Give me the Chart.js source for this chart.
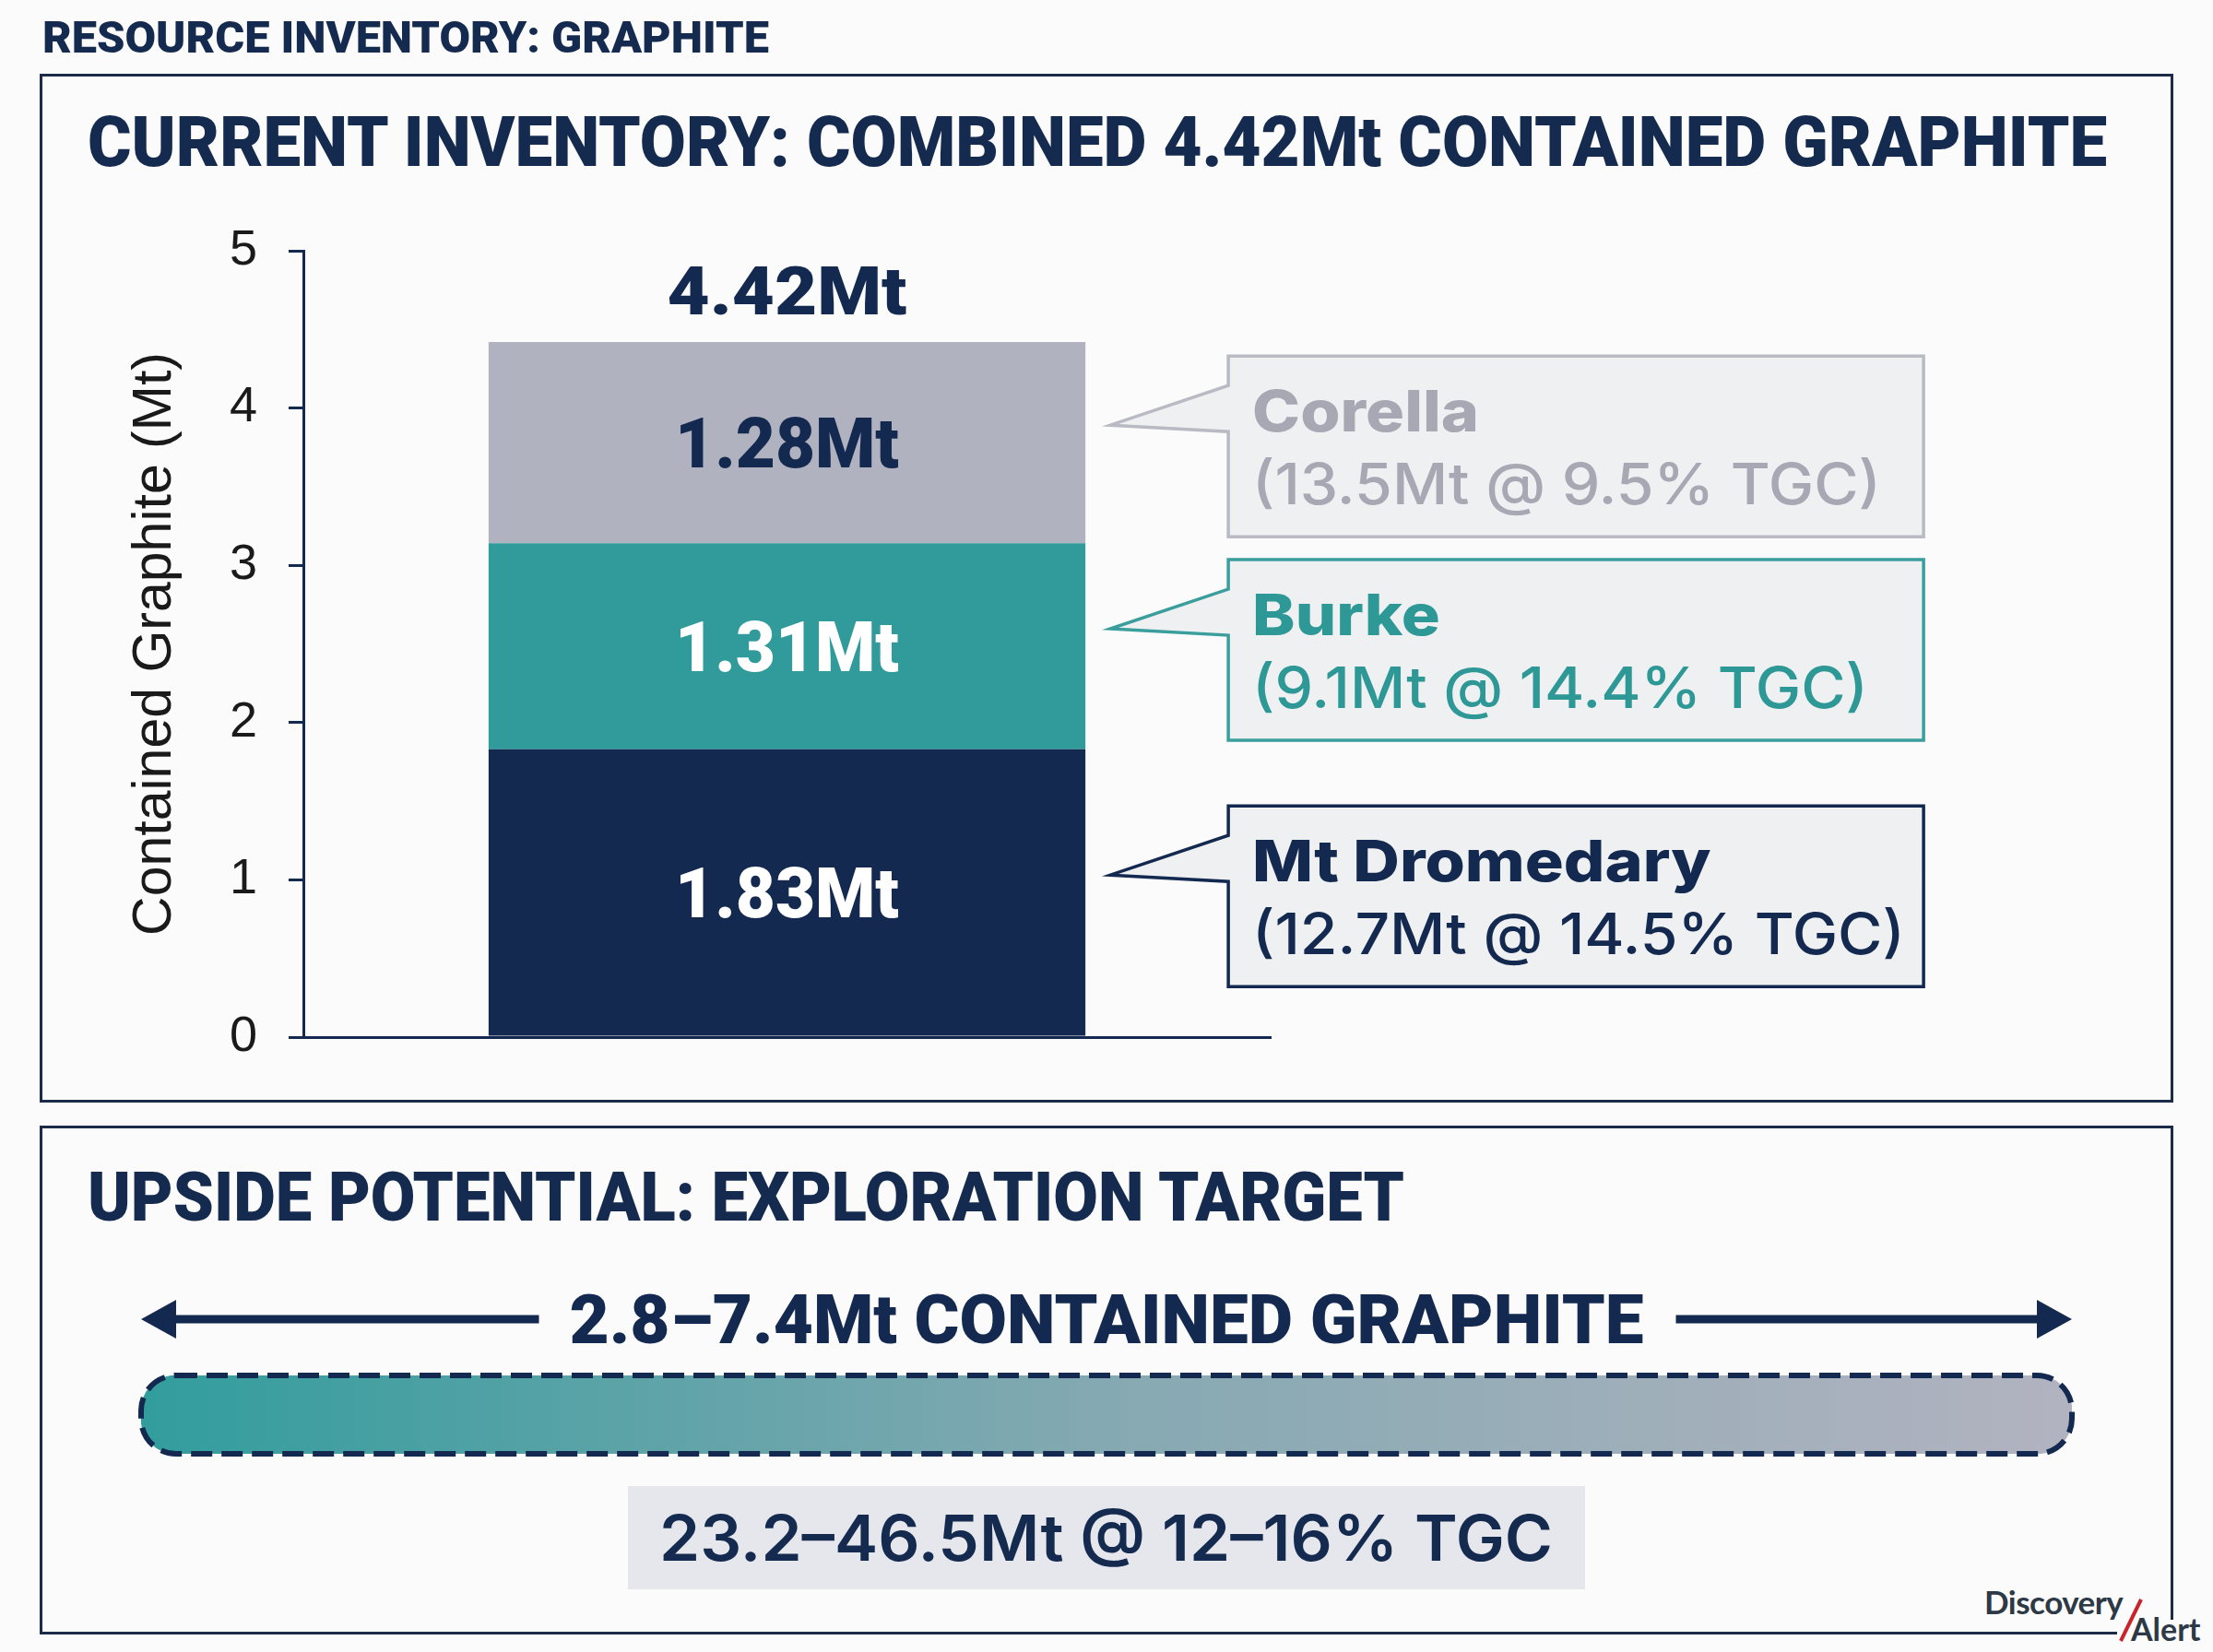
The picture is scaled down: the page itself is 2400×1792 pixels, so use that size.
<!DOCTYPE html>
<html>
<head>
<meta charset="utf-8">
<title>Resource Inventory: Graphite</title>
<script src="https://cdn.jsdelivr.net/npm/chart.js@4/dist/chart.umd.min.js"></script>
<style>
  html, body { margin: 0; padding: 0; }
  body { width: 2400px; height: 1792px; background: #fbfbfc; position: relative; overflow: hidden; }
  .panel { position: absolute; border: 3px solid #1c2b47; box-sizing: border-box; }
  .fit { position: absolute; white-space: nowrap; line-height: 1; transform-origin: 0 0;
         font-family: Roboto, "Liberation Sans", sans-serif; font-weight: 900; color: #142a4e; }
  canvas { position: absolute; left: 0; }
  #targetBox { position: absolute; left: 681px; top: 1612px; width: 1038px; height: 112px; background: #e6e7ec; }
  #logo { position: absolute; left: 2296px; top: 1757px; width: 104px; height: 35px; background: #fbfbfc; }
</style>
</head>
<body>
<div class="panel" style="left:43px; top:80px; width:2314px; height:1116px;"></div>
<div class="panel" style="left:43px; top:1221px; width:2314px; height:552px;"></div>

<div class="fit" id="header" style="left:46px; top:17px; font-size:48px;" data-w="788">RESOURCE INVENTORY: GRAPHITE</div>
<div class="fit" id="topTitle" style="left:95px; top:116px; font-size:76px;" data-w="2190"></div>
<div class="fit" id="bottomTitle" style="left:95px; top:1262px; font-size:74px;" data-w="1428">UPSIDE POTENTIAL: EXPLORATION TARGET</div>

<canvas id="stackChart" width="2400" height="1200" style="top:0;"></canvas>
<canvas id="rangeChart" width="2400" height="240" style="top:1380px;"></canvas>

<div id="targetBox"></div>
<div class="fit" id="targetText" style="left:715px; top:1634px; font-size:69px; font-family:Inter, Roboto, sans-serif; font-weight:600;" data-w="969"></div>

<div id="logo"></div>
<div style="position:absolute; left:2152px; top:1720px; font-family:Lato, 'Open Sans', sans-serif; font-weight:700; font-size:35px; line-height:1; color:#2d3944; letter-spacing:-0.5px;">Discovery</div>
<div style="position:absolute; left:2311px; top:1750px; font-family:Lato, 'Open Sans', sans-serif; font-weight:700; font-size:34px; line-height:1; color:#2d3944;">Alert</div>
<svg style="position:absolute; left:2290px; top:1728px;" width="40" height="60"><line x1="10" y1="52" x2="32" y2="7" stroke="#c9242b" stroke-width="4"/></svg>

<script>
// ---- data ----
const categories = ['Current inventory'];
const deposits = ['Mt Dromedary', 'Burke', 'Corella'];
const containedMt = [1.83, 1.31, 1.28];
const tonnageMt = [12.7, 9.1, 13.5];
const gradeTGC = [14.5, 14.4, 9.5];
const yTicks = [0, 1, 2, 3, 4, 5];

const explorationRangeMt = [2.8, 7.4];
const explorationTonnageMt = [23.2, 46.5];
const explorationGradeTGC = [12, 16];

// ---- colours ----
const NAVY = '#13294f';
const barColors = [NAVY, '#319b9b', '#b1b2bf'];
const barLabelColors = ['#ffffff', '#ffffff', NAVY];
const calloutBorder = [NAVY, '#3a9e9c', '#b9bac3'];
const calloutText = [NAVY, '#2e9896', '#a7a8b4'];

const totalMt = containedMt.reduce((a, b) => a + b, 0);
document.getElementById('topTitle').textContent =
    'CURRENT INVENTORY: COMBINED ' + totalMt.toFixed(2) + 'Mt CONTAINED GRAPHITE';
document.getElementById('targetText').textContent =
    explorationTonnageMt[0] + '–' + explorationTonnageMt[1] + 'Mt @ ' +
    explorationGradeTGC[0] + '–' + explorationGradeTGC[1] + '% TGC';

// squeeze / stretch headings to the widths in the picture
document.querySelectorAll('.fit[data-w]').forEach(function (el) {
    const s = +el.dataset.w / el.getBoundingClientRect().width;
    el.style.transform = 'scaleX(' + s + ')';
});

// width: target width in px (optional), stretch: horizontal scale (optional)
function drawText(ctx, text, x, y, font, color, align, width, stretch) {
    ctx.save();
    ctx.font = font;
    ctx.fillStyle = color;
    ctx.textBaseline = 'alphabetic';
    ctx.textAlign = align || 'left';
    let s = stretch || 1;
    if (width) s = width / ctx.measureText(text).width;
    ctx.translate(x, y);
    ctx.scale(s, 1);
    ctx.fillText(text, 0, 0);
    ctx.restore();
}

// labels inside the stack, total on top, and the callout boxes on the right
const calloutPlugin = {
    id: 'callouts',
    afterDatasetsDraw(chart) {
        const ctx = chart.ctx;
        let stackTop = Infinity, cx = 0;
        chart.data.datasets.forEach(function (ds, i) {
            const bar = chart.getDatasetMeta(i).data[0];
            const mid = (bar.y + bar.base) / 2;
            stackTop = Math.min(stackTop, bar.y);
            cx = bar.x;
            drawText(ctx, containedMt[i].toFixed(2) + 'Mt', bar.x, mid + 27,
                '900 76px Roboto', barLabelColors[i], 'center', null, 0.98);

            const barRight = bar.x + bar.width / 2;
            const tipX = barRight + 27, L = barRight + 155, R = L + 754;
            const T = mid - 94, B = T + 196;
            ctx.save();
            ctx.beginPath();
            ctx.moveTo(L, T);
            ctx.lineTo(R, T);
            ctx.lineTo(R, B);
            ctx.lineTo(L, B);
            ctx.lineTo(L, T + 82);
            ctx.lineTo(tipX, T + 75);
            ctx.lineTo(L, T + 32);
            ctx.closePath();
            ctx.fillStyle = '#eff0f2';
            ctx.fill();
            ctx.lineWidth = 3.5;
            ctx.lineJoin = 'miter';
            ctx.strokeStyle = calloutBorder[i];
            ctx.stroke();
            ctx.restore();

            drawText(ctx, deposits[i], L + 26, T + 82, '800 62px Inter', calloutText[i], 'left', null, 1.13);
            drawText(ctx, '(' + tonnageMt[i] + 'Mt @ ' + gradeTGC[i] + '% TGC)', L + 26, T + 161,
                '500 62px Inter', calloutText[i], 'left', null, 1.065);
        });
        drawText(ctx, totalMt.toFixed(2) + 'Mt', cx, stackTop - 30, '900 72px Roboto', NAVY, 'center', 260);
    }
};

new Chart(document.getElementById('stackChart'), {
    type: 'bar',
    data: {
        labels: categories,
        datasets: deposits.map(function (name, i) {
            return {
                label: name,
                data: [containedMt[i]],
                backgroundColor: barColors[i],
                borderWidth: 0,
                barPercentage: 0.617,
                categoryPercentage: 1
            };
        })
    },
    options: {
        responsive: false,
        animation: false,
        devicePixelRatio: 1,
        layout: { padding: { left: 100, right: 1022, top: 272, bottom: 75 } },
        plugins: { legend: { display: false }, tooltip: { enabled: false } },
        scales: {
            x: {
                stacked: true,
                grid: { display: false },
                ticks: { display: false },
                border: { display: true, color: NAVY, width: 3 },
                afterFit: function (scale) { scale.height = 0; }
            },
            y: {
                stacked: true,
                min: yTicks[0],
                max: yTicks[yTicks.length - 1],
                ticks: {
                    stepSize: 1,
                    padding: 34,
                    color: '#1a1a1a',
                    font: { family: 'Liberation Sans', size: 54 }
                },
                grid: { drawOnChartArea: false, drawTicks: true, tickLength: 16, color: NAVY, lineWidth: 3 },
                border: { display: true, color: NAVY, width: 3 },
                title: {
                    display: true,
                    text: 'Contained Graphite (Mt)',
                    color: '#1a1a1a',
                    font: { family: 'Liberation Sans', size: 59 },
                    padding: { top: 33, bottom: 0 }
                },
                afterFit: function (scale) { scale.width = 229; }
            }
        }
    },
    plugins: [calloutPlugin]
});

// exploration target range: arrow + caption above, dashed outline round the bar
const rangePlugin = {
    id: 'rangeDecor',
    beforeDatasetsDraw(chart) {
        const ctx = chart.ctx;
        const xs = chart.scales.x;
        const x0 = xs.getPixelForValue(explorationRangeMt[0]);
        const x1 = xs.getPixelForValue(explorationRangeMt[1]);
        const y = chart.chartArea.top - 61;
        const label = explorationRangeMt[0] + '–' + explorationRangeMt[1] + 'Mt CONTAINED GRAPHITE';
        const textW = 1165, cx = (x0 + x1) / 2;
        drawText(ctx, label, cx, y + 26, '900 75px Roboto', NAVY, 'center', textW);
        ctx.save();
        ctx.strokeStyle = NAVY;
        ctx.fillStyle = NAVY;
        ctx.lineWidth = 9;
        ctx.beginPath();
        ctx.moveTo(x0 + 36, y);
        ctx.lineTo(cx - textW / 2 - 33, y);
        ctx.moveTo(cx + textW / 2 + 35, y);
        ctx.lineTo(x1 - 36, y);
        ctx.stroke();
        [[x0, 1], [x1, -1]].forEach(function (p) {
            ctx.beginPath();
            ctx.moveTo(p[0], y);
            ctx.lineTo(p[0] + p[1] * 38, y - 21);
            ctx.lineTo(p[0] + p[1] * 38, y + 21);
            ctx.closePath();
            ctx.fill();
        });
        ctx.restore();
    },
    afterDatasetsDraw(chart) {
        const ctx = chart.ctx;
        const bar = chart.getDatasetMeta(0).data[0];
        const left = Math.min(bar.x, bar.base), right = Math.max(bar.x, bar.base);
        const top = bar.y - bar.height / 2;
        ctx.save();
        ctx.beginPath();
        ctx.roundRect(left, top, right - left, bar.height, 38);
        ctx.setLineDash([23, 10]);
        ctx.lineWidth = 6;
        ctx.strokeStyle = NAVY;
        ctx.stroke();
        ctx.restore();
    }
};

new Chart(document.getElementById('rangeChart'), {
    type: 'bar',
    data: {
        labels: ['Exploration target'],
        datasets: [{
            label: 'Exploration target (Mt contained graphite)',
            data: [explorationRangeMt],
            backgroundColor: function (c) {
                const area = c.chart.chartArea;
                if (!area) return barColors[1];
                const g = c.chart.ctx.createLinearGradient(area.left, 0, area.right, 0);
                g.addColorStop(0, '#329d9d');
                g.addColorStop(0.5, '#85a9b2');
                g.addColorStop(1, '#b2b3c0');
                return g;
            },
            borderWidth: 0,
            borderRadius: 38,
            borderSkipped: false,
            barPercentage: 1,
            categoryPercentage: 1
        }]
    },
    options: {
        indexAxis: 'y',
        responsive: false,
        animation: false,
        devicePixelRatio: 1,
        layout: { padding: { left: 153, right: 153, top: 112, bottom: 43 } },
        plugins: { legend: { display: false }, tooltip: { enabled: false } },
        scales: {
            x: { display: false, min: explorationRangeMt[0], max: explorationRangeMt[1] },
            y: { display: false }
        }
    },
    plugins: [rangePlugin]
});
</script>
</body>
</html>
